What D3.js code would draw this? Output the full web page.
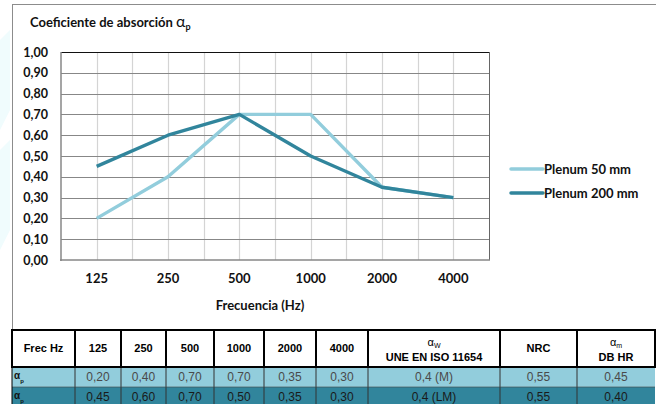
<!DOCTYPE html>
<html><head><meta charset="utf-8">
<script src="https://cdn.jsdelivr.net/npm/d3@7/dist/d3.min.js"></script>
<style>body{margin:0;background:#fff}svg{display:block}</style>
</head><body>
<svg id="c" width="656" height="404"></svg>
<script>
const categories = ["125","250","500","1000","2000","4000"];
const plenum50 = [0.20,0.40,0.70,0.70,0.35,0.30];
const plenum200 = [0.45,0.60,0.70,0.50,0.35,0.30];
const seriesNames = ["Plenum 50 mm","Plenum 200 mm"];
const yTicks = [0,0.1,0.2,0.3,0.4,0.5,0.6,0.7,0.8,0.9,1.0];
const tableHeaders = ["Frec Hz","125","250","500","1000","2000","4000","αW|UNE EN ISO 11654","NRC","αm|DB HR"];
const row50 = ["0,20","0,40","0,70","0,70","0,35","0,30","0,4 (M)","0,55","0,45"];
const row200 = ["0,45","0,60","0,70","0,50","0,35","0,30","0,4 (LM)","0,55","0,40"];

const colLight = "#92CDDC", colDark = "#31859C";
const svg = d3.select("#c");
const F = "Lato, 'Open Sans', sans-serif";
const T = "'Liberation Sans', Arial, sans-serif";

// faint watermark on left edge
svg.append("path").attr("d","M0,40 L10,30 L10,110 L0,130 Z").attr("fill","#f0fcfd");
svg.append("path").attr("d","M0,150 L10,140 L10,230 L0,250 Z").attr("fill","#f0fcfd");

// chart box
svg.append("rect").attr("x",12.5).attr("y",4.5).attr("width",660).attr("height",325)
  .attr("fill","#fff").attr("stroke","#8c8c8c");

const x = d3.scaleBand().domain(categories).range([61,489]).padding(0);
const y = d3.scaleLinear().domain([0,1]).range([260,52]);
const cx = d => x(d) + x.bandwidth()/2;

// vertical gridlines
const vg = [];
categories.forEach((c,i)=>{ vg.push(cx(c)); if(i>0) vg.push(x(c)); });
svg.append("g").selectAll("line").data(vg).join("line")
  .attr("x1",d=>Math.round(d)+0.5).attr("x2",d=>Math.round(d)+0.5)
  .attr("y1",y(1)).attr("y2",y(0)).attr("stroke","#d4d4d4").attr("stroke-width",1.2);
// horizontal gridlines
svg.append("g").selectAll("line").data(yTicks.filter(t=>t>0 && t<1)).join("line")
  .attr("x1",61).attr("x2",489).attr("y1",d=>Math.round(y(d))+0.5).attr("y2",d=>Math.round(y(d))+0.5)
  .attr("stroke","#878787").attr("stroke-width",1);
// borders
svg.append("line").attr("x1",61).attr("x2",489).attr("y1",y(1)+0.5).attr("y2",y(1)+0.5).attr("stroke","#111").attr("stroke-width",1);
svg.append("line").attr("x1",489.5).attr("x2",489.5).attr("y1",y(1)).attr("y2",y(0)).attr("stroke","#666").attr("stroke-width",1);
svg.append("line").attr("x1",61).attr("x2",61).attr("y1",y(1)).attr("y2",y(0)+1).attr("stroke","#878787").attr("stroke-width",1.5);
svg.append("line").attr("x1",60).attr("x2",490).attr("y1",y(0)).attr("y2",y(0)).attr("stroke","#878787").attr("stroke-width",1.5);

// y tick labels
const yAxis = d3.axisLeft(y).tickValues(yTicks).tickSize(0).tickPadding(13)
  .tickFormat(d=>d.toFixed(2).replace(".",","));
const ya = svg.append("g").attr("transform","translate(61,0)").call(yAxis);
ya.select(".domain").remove();
ya.selectAll("text").attr("font-family",F).attr("font-weight","bold").attr("font-size",12.5).attr("fill","#111");

// x tick labels
const xAxis = d3.axisBottom(x).tickSize(0).tickPadding(14);
const xa = svg.append("g").attr("transform","translate(0,260)").call(xAxis);
xa.select(".domain").remove();
xa.selectAll("text").attr("font-family",F).attr("font-weight","bold").attr("font-size",13).attr("fill","#111");

svg.append("text").attr("x",260).attr("y",310).attr("text-anchor","middle")
  .attr("font-family",F).attr("font-weight","bold").attr("font-size",13).attr("fill","#111").text("Frecuencia (Hz)");

// title
const tt = svg.append("text").attr("x",30).attr("y",27).attr("font-family",F).attr("font-weight","bold").attr("font-size",13).attr("fill","#111");
tt.append("tspan").text("Coeficiente de absorción ");
tt.append("tspan").attr("font-size",16).attr("font-weight","normal").text("α");
tt.append("tspan").attr("font-size",9).attr("dy",3).text("p");

// lines
const line = d3.line().x((d,i)=>cx(categories[i])).y(d=>y(d));
const series = [{name:seriesNames[0],values:plenum50,color:colLight},{name:seriesNames[1],values:plenum200,color:colDark}];
svg.append("g").selectAll("path").data(series).join("path")
  .attr("d",d=>line(d.values)).attr("fill","none").attr("stroke",d=>d.color)
  .attr("stroke-width",3.4).attr("stroke-linejoin","round");

// legend
const lg = svg.append("g").selectAll("g").data(series).join("g")
  .attr("transform",(d,i)=>`translate(511,${169+i*24})`);
lg.append("line").attr("x1",0).attr("x2",32).attr("stroke",d=>d.color).attr("stroke-width",3.5).attr("stroke-linecap","round");
lg.append("text").attr("x",33).attr("y",4.5).attr("font-family",F).attr("font-weight","bold").attr("font-size",13).attr("fill","#111").text(d=>d.name);

// table
const colX = [12,75,121,166,214,264,316,368,500,577,655];
const hdrTop = 330, r1Top = 367, r2Top = 387, r2Bot = 405;
const tg = svg.append("g");
tg.append("rect").attr("x",12).attr("y",r1Top).attr("width",643).attr("height",r2Top-r1Top).attr("fill",colLight);
tg.append("rect").attr("x",12).attr("y",r2Top).attr("width",643).attr("height",r2Bot-r2Top).attr("fill",colDark);
tg.append("rect").attr("x",12).attr("y",hdrTop).attr("width",643).attr("height",r1Top-hdrTop).attr("fill","#fff");
colX.slice(1,-1).forEach(cxv=>{
  tg.append("line").attr("x1",cxv).attr("x2",cxv).attr("y1",r1Top).attr("y2",r2Bot).attr("stroke","#333").attr("stroke-width",1);
});
tg.append("line").attr("x1",12).attr("x2",655).attr("y1",r2Top).attr("y2",r2Top).attr("stroke","#444").attr("stroke-width",0.6);
colX.forEach(cxv=>{
  tg.append("line").attr("x1",cxv).attr("x2",cxv).attr("y1",hdrTop).attr("y2",r1Top).attr("stroke","#000").attr("stroke-width",2);
});
tg.append("line").attr("x1",11).attr("x2",656).attr("y1",hdrTop).attr("y2",hdrTop).attr("stroke","#000").attr("stroke-width",2);
tg.append("line").attr("x1",11).attr("x2",656).attr("y1",r1Top).attr("y2",r1Top).attr("stroke","#000").attr("stroke-width",2);
tg.append("line").attr("x1",12).attr("x2",12).attr("y1",r1Top).attr("y2",r2Bot).attr("stroke","#000").attr("stroke-width",1);

tableHeaders.forEach((h,i)=>{
  const mid = (colX[i]+colX[i+1])/2;
  const parts = h.split("|");
  if(parts.length===1){
    tg.append("text").attr("x",mid).attr("y",352).attr("text-anchor","middle")
      .attr("font-family",T).attr("font-weight","bold").attr("font-size",11).attr("fill","#000").text(h);
  } else {
    const g = tg.append("text").attr("x",mid).attr("y",346).attr("text-anchor","middle")
      .attr("font-family",T).attr("font-size",11).attr("fill","#000");
    g.append("tspan").text(parts[0][0]);
    g.append("tspan").attr("font-size",7).attr("dy",2).text(parts[0].slice(1));
    tg.append("text").attr("x",mid).attr("y",361).attr("text-anchor","middle")
      .attr("font-family",T).attr("font-weight","bold").attr("font-size",11).attr("fill","#000").text(parts[1]);
  }
});
[[r1Top,"#111"],[r2Top,"#111"]].forEach(([top,c])=>{
  const t = tg.append("text").attr("x",14).attr("y",top+12).attr("font-family",T).attr("font-weight","bold").attr("font-size",10).attr("fill",c);
  t.append("tspan").text("α");
  t.append("tspan").attr("font-size",6).attr("dy",4).text("p");
});
[[row50,r1Top,"#4a4a4a"],[row200,r2Top,"#1a1a1a"]].forEach(([vals,top,c])=>{
  vals.forEach((v,i)=>{
    const mid = (colX[i+1]+colX[i+2])/2;
    tg.append("text").attr("x",mid).attr("y",top+14).attr("text-anchor","middle")
      .attr("font-family",T).attr("font-size",12).attr("fill",c).text(v);
  });
});
</script>
</body></html>
